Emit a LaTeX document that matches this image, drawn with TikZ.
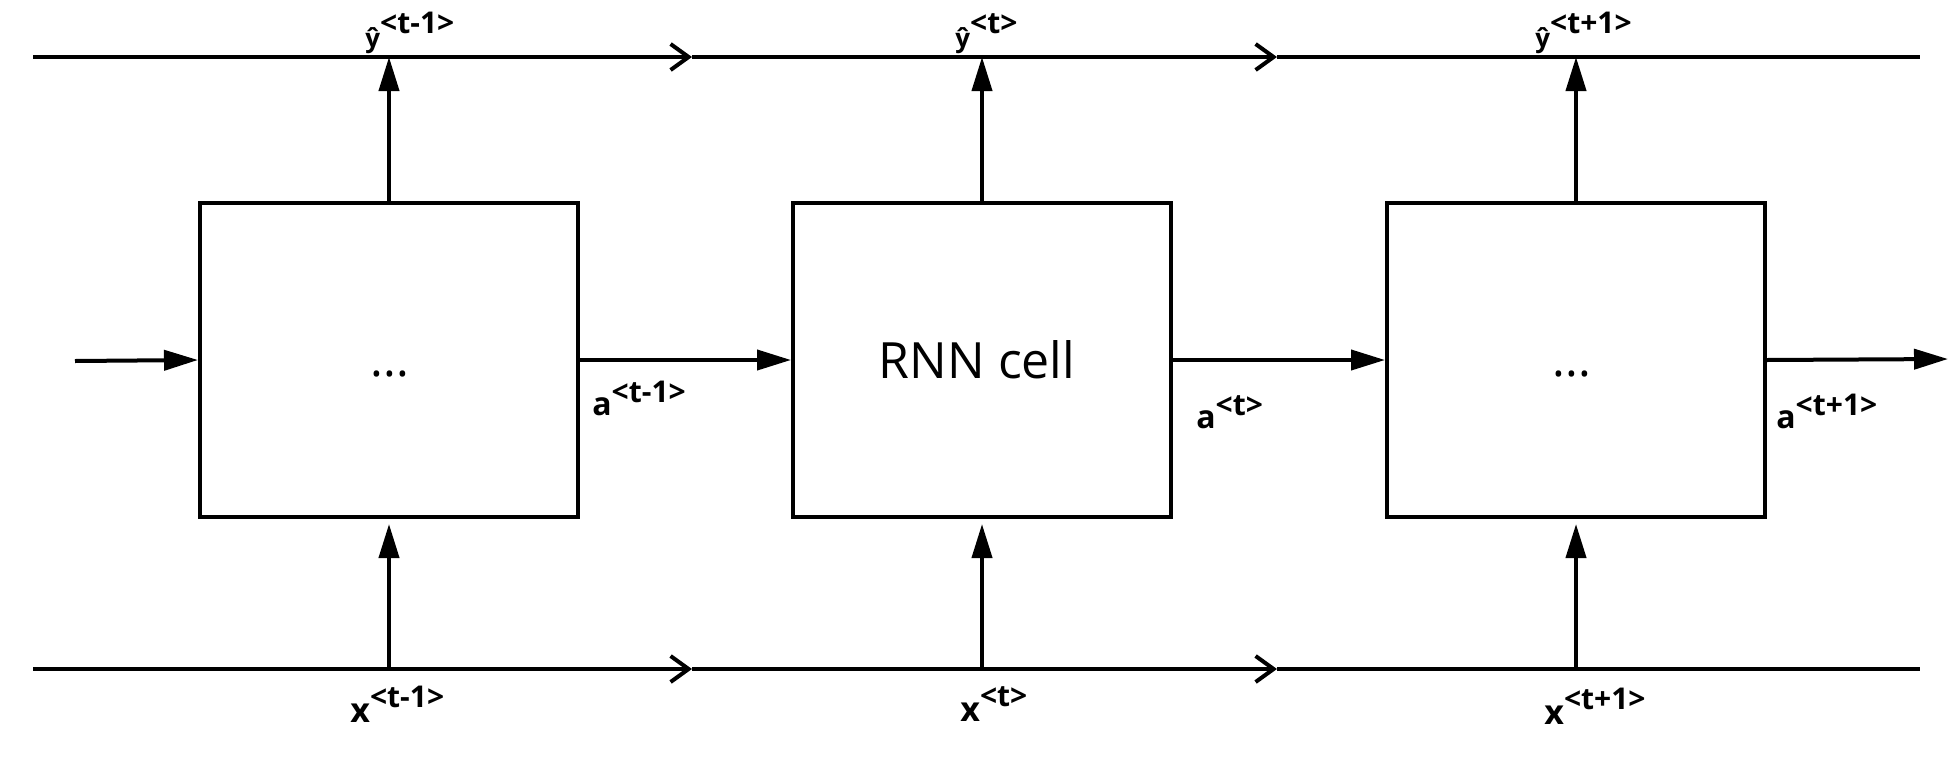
\documentclass[tikz,border=0pt]{standalone}
\usepackage{fontspec}
\setmainfont{Open Sans}
\usetikzlibrary{arrows.meta}
\newcommand{\suplab}[4]{{\fontsize{#1}{#1}\selectfont #3}\raisebox{#2}{\fontsize{15}{15}\selectfont #4}}
\begin{document}
\begin{tikzpicture}[x=0.5pt,y=-0.5pt,
  cell/.style={draw, line width=2pt, minimum width=189pt, minimum height=157pt, inner sep=0pt},
  track/.style={line width=2pt, -{Straight Barb[length=9pt,width=13pt]}},
  plain/.style={line width=2pt},
  flow/.style={line width=2pt, -{Triangle[length=17pt,width=10pt]}},
  lab/.style={font=\bfseries, anchor=base west, inner sep=0pt},
  dotsnode/.style={font=\fontsize{24}{24}\selectfont, anchor=base, inner sep=0pt},
]
\useasboundingbox (0,0) rectangle (1949,766);

% tracks
\coordinate (tl) at (33,57);
\coordinate (tm1) at (692,57);
\coordinate (tm2) at (1277,57);
\coordinate (tr) at (1920,57);
\coordinate (bl) at (33,669);
\coordinate (bm1) at (692,669);
\coordinate (bm2) at (1277,669);
\coordinate (br) at (1920,669);
\draw[track] (tl) -- (tm1);
\draw[track] (tm1) -- (tm2);
\draw[plain] (tm2) -- (tr);
\draw[track] (bl) -- (bm1);
\draw[track] (bm1) -- (bm2);
\draw[plain] (bm2) -- (br);

% cells
\node[cell] (c1) at (389,360) {};
\node[cell] (c2) at (982,360) {};
\node[cell] (c3) at (1576,360) {};
\node[font=\fontsize{25}{25}\selectfont, inner sep=0pt] (t2) at (977,360) {RNN cell};
\node[dotsnode] (d1) at (390,376) {...};
\node[dotsnode] (d3) at (1572,376) {...};

% recurrent arrows
\coordinate (in) at (75,361);
\coordinate (out) at (1948,359);
\draw[flow] (in) -- (c1.west);
\draw[flow] (c1.east) -- (c2.west);
\draw[flow] (c2.east) -- (c3.west);
\draw[flow] (c3.east) -- (out);

% outputs and inputs
\foreach \c in {c1,c2,c3}{
  \draw[flow] (\c.north) -- (\c.north |- tl);
  \draw[flow] (\c.south |- bl) -- ([yshift=-2.5pt]\c.south);
}

% labels
\node[lab] (y1) at (365,47) {\suplab{13}{7pt}{ŷ}{<t-1>}};
\node[lab] (y2) at (955,47) {\suplab{13}{7pt}{ŷ}{<t>}};
\node[lab] (y3) at (1535,47) {\suplab{13}{7pt}{ŷ}{<t+1>}};
\node[lab] (a1) at (592,415) {\suplab{16}{6.5pt}{a}{<t-1>}};
\node[lab] (a2) at (1196,428) {\suplab{16}{6.5pt}{a}{<t>}};
\node[lab] (a3) at (1776,428) {\suplab{16}{6.5pt}{a}{<t+1>}};
\node[lab] (x1) at (350,722) {\suplab{17}{7.5pt}{x}{<t-1>}};
\node[lab] (x2) at (960,721) {\suplab{17}{7.5pt}{x}{<t>}};
\node[lab] (x3) at (1544,724) {\suplab{17}{7.5pt}{x}{<t+1>}};
\end{tikzpicture}
\end{document}
